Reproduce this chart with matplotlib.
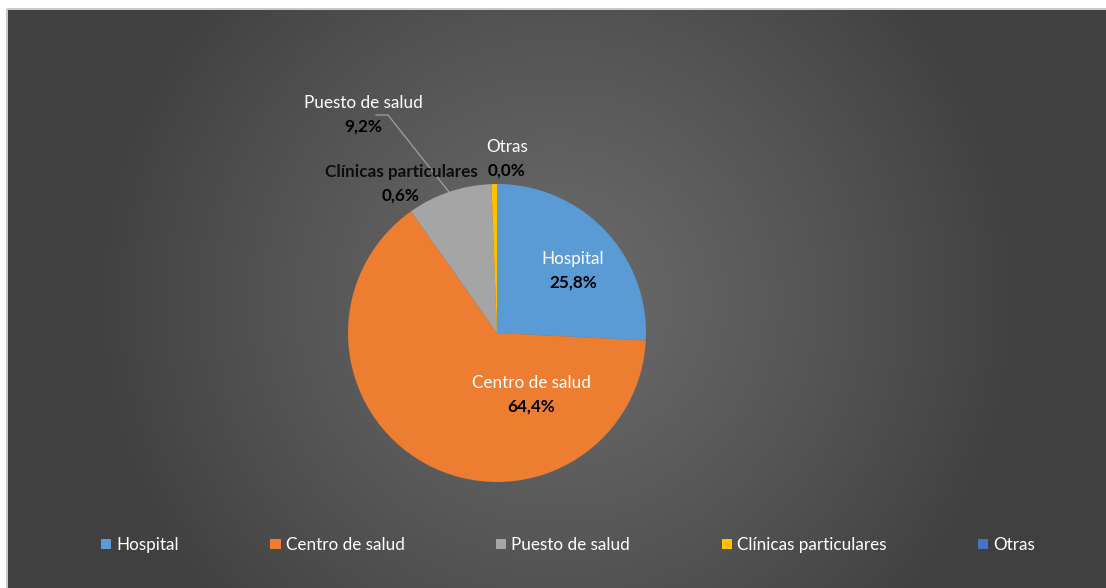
import numpy as np
import matplotlib
matplotlib.use("Agg")
import matplotlib.pyplot as plt
from matplotlib.patches import Patch, Rectangle

categories = ["Hospital", "Centro de salud", "Puesto de salud", "Clínicas particulares", "Otras"]
values = [25.8, 64.4, 9.2, 0.6, 0.0]
pct_labels = ["25,8%", "64,4%", "9,2%", "0,6%", "0,0%"]
colors = ["#5B9BD5", "#ED7D31", "#A5A5A5", "#FFC000", "#4472C4"]

W, H = 1106, 588
plt.rcParams['font.family'] = ['Lato', 'DejaVu Sans']
fig = plt.figure(figsize=(W / 100, H / 100), dpi=100)
fig.patch.set_facecolor("white")

# background panel with radial gradient
bg = fig.add_axes([0, 0, 1, 1])
bg.set_xlim(0, W)
bg.set_ylim(H, 0)
bg.axis("off")
x0, y0 = 8, 10
xx, yy = np.meshgrid(np.arange(x0, W) + 0.5, np.arange(y0, H) + 0.5)
cx, cy = 557, 300
d = np.sqrt((xx - cx) ** 2 + (yy - cy) ** 2) / 470.0
t = np.clip(d, 0, 1) ** 1.2
c_in, c_out = 0x6a / 255, 0x40 / 255
img = c_in + (c_out - c_in) * t
bg.imshow(np.dstack([img, img, img]), extent=(x0, W, H, y0), interpolation="bilinear", zorder=0)
bg.add_patch(Rectangle((x0 - 1, y0 - 1), W, H, facecolor="none", edgecolor="#BFBFBF", lw=1.2, zorder=1))

# pie axes in pixel coords (y up)
ax = fig.add_axes([0, 0, 1, 1])
ax.axis("off")
pcx, pcy, R = 497, H - 333, 149
wedges, _ = ax.pie(values, colors=colors, startangle=90, counterclock=False,
                   center=(pcx, pcy), radius=R, frame=False,
                   wedgeprops=dict(linewidth=0))
ax.set_xlim(0, W)
ax.set_ylim(0, H)
ax.set_aspect("auto")

fs = 12.3
def lbl(dx, dy, name, pct, name_color="white", name_bold=False):
    ax.text(pcx + dx, pcy + dy, name, ha="center", va="center", fontsize=fs,
            color=name_color, fontweight="bold" if name_bold else "normal")
    ax.text(pcx + dx, pcy + dy - 24, pct, ha="center", va="center", fontsize=fs,
            color="black", fontweight="bold")

lbl(76, 333 - 259, categories[0], pct_labels[0])
lbl(34, 333 - 383, categories[1], pct_labels[1])
lbl(-134, 333 - 103, categories[2], pct_labels[2])
lbl(-96, 333 - 172, categories[3], pct_labels[3], name_color="#0d0d0d", name_bold=True)
lbl(10, 333 - 147, categories[4], pct_labels[4])

# leader line for Puesto de salud
ax.plot([376, 388, 449], [H - 115, H - 115, H - 192], color="#A0A0A0", lw=0.9)

handles = [Patch(facecolor=c, edgecolor="none") for c in colors]
leg = ax.legend(handles, categories, loc="center", bbox_to_anchor=(568 / W, 1 - 545 / H),
                ncol=5, frameon=False, fontsize=fs, labelcolor="white",
                handlelength=0.6, handleheight=0.6, handletextpad=0.3,
                columnspacing=5.35, borderpad=0)

fig.savefig("out.png", dpi=100, facecolor=fig.get_facecolor())
